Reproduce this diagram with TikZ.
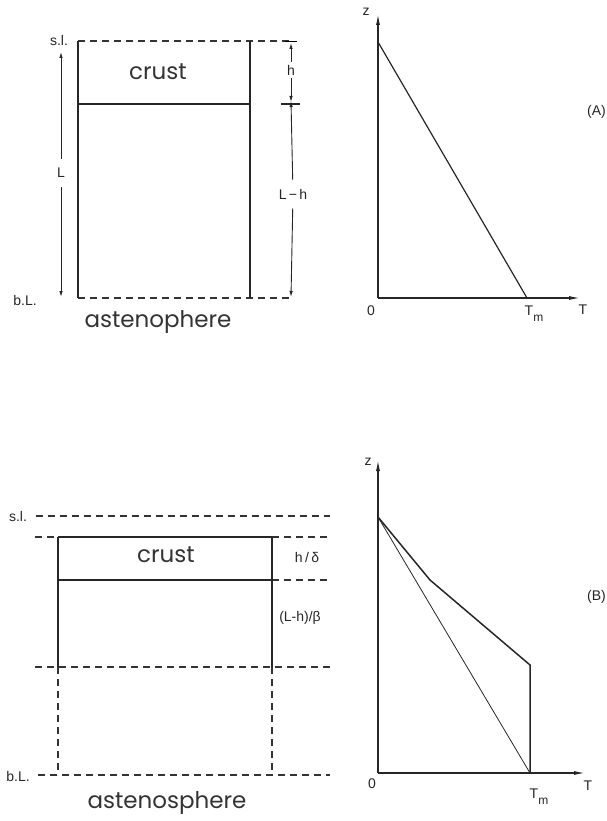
\documentclass[tikz,border=0pt]{standalone}
\usepackage{fontspec}
\setmainfont{Liberation Sans}
\newfontfamily\geofont{Poppins}
\usetikzlibrary{arrows.meta, positioning}

\newcommand{\Tmelt}{T\raisebox{-6pt}{\fontsize{12}{14}\selectfont m}}

\begin{document}
\begin{tikzpicture}[
  x=1pt, y=-1pt,
  wall/.style={line width=1.3pt, draw=black!85},
  dashline/.style={line width=1.1pt, draw=black!80, dash pattern=on 7pt off 5pt},
  dimarr/.style={-{Latex[length=6pt,width=3.5pt]}, line width=0.9pt, draw=black!85},
  axis/.style={-{Latex[length=11pt,width=4pt]}, line width=1.2pt, draw=black!85},
  profile/.style={line width=1.5pt, draw=black!85},
  thinline/.style={line width=0.8pt, draw=black!85},
  big/.style={font=\geofont\fontsize{23}{26}\selectfont, text=black!80},
  small/.style={font=\fontsize{14}{16}\selectfont, text=black!85, inner sep=1pt},
  gap/.style={small, fill=white, inner xsep=2pt, inner ysep=9pt}
]
\useasboundingbox (0,0) rectangle (607,821);

% ---------- (A) column
\coordinate (aTL) at (78,41);  \coordinate (aTR) at (250,41);
\coordinate (aCL) at (78,104); \coordinate (aCR) at (250,104);
\coordinate (aBL) at (78,298); \coordinate (aBR) at (250,298);
\coordinate (aTE) at (293,41); \coordinate (aBE) at (293,298);

\draw[dashline] (aTL) -- (aTE);
\draw[dashline] (aBL) -- (aBE);
\draw[wall] (aTL) -- (aBL);
\draw[wall] (aTR) -- (aBR);
\draw[wall] (aCL) -- (aCR);

\node[big] (crustA) at (158,72) {crust};
\node[big] (asthA) at (158,322) {astenophere};
\node[small] (slA) at (59,40) {s.l.};
\node[small] (blA) at (25,300) {b.L.};

% L on the left
\coordinate (Ltop) at (61,52); \coordinate (Lbot) at (61,297);
\node[gap] (Llbl) at (61,173) {L};
\draw[dimarr] (Llbl) -- (Ltop);
\draw[dimarr] (Llbl) -- (Lbot);

% h and L-h on the right
\coordinate (hTop) at (291,43); \coordinate (hMid) at (291,104);
\coordinate (hBot) at (291,297);
\draw[wall] (281,104) -- (300,104);
\draw[line width=0.9pt] (285,41) -- (297,41);
\node[small, fill=white, inner ysep=3pt] (hlbl) at (291,70) {h};
\draw[dimarr] (hlbl) -- (hTop);
\draw[dimarr] (hlbl) -- (291,102);
\node[gap] (Lhlbl) at (293,194) {L\,\textminus\,h};
\draw[dimarr] (Lhlbl) -- ([yshift=3pt]hMid);
\draw[dimarr] (Lhlbl) -- (hBot);

% graph (A)
\coordinate (oA) at (378,298);
\draw[axis] (oA) -- (378,14);
\draw[axis] (oA) -- (580,298);
\node[small] (zA) at (366,12) {z};
\node[small] (zeroA) at (371,311) {0};
\node[small] (TA) at (583,310) {T};
\node[small] (TmA) at (534,314) {\Tmelt};
\draw[thinline, line width=1.2pt] (378,42) -- (527,298);
\node[small, anchor=east] (tagA) at (607,112) {(A)};

% ---------- (B) column
\coordinate (bTL) at (58,537);  \coordinate (bTR) at (272,537);
\coordinate (bCL) at (58,580);  \coordinate (bCR) at (272,580);
\coordinate (bBL) at (58,667);  \coordinate (bBR) at (272,667);
\coordinate (bLL) at (58,775);  \coordinate (bLR) at (272,775);

\draw[dashline] (36,516) -- (330,516);
\draw[dashline] (35,537) -- (bTL);
\draw[dashline] (bTR) -- (330,537);
\draw[dashline] (bCR) -- (330,580);
\draw[dashline] (35,667) -- (330,667);
\draw[dashline] (bBL) -- (bLL);
\draw[dashline] (bBR) -- (bLR);
\draw[dashline] (38,775) -- (330,775);
\draw[wall] (bTL) -- (bTR);
\draw[wall] (bCL) -- (bCR);
\draw[wall] (bTL) -- (bBL);
\draw[wall] (bTR) -- (bBR);

\node[big] (crustB) at (166,555) {crust};
\node[big] (asthB) at (167,803) {astenosphere};
\node[small] (slB) at (18,516) {s.l.};
\node[small] (blB) at (18,776) {b.L.};
\node[small] (hdB) at (307,557) {h\,/\,δ};
\node[small] (lhB) at (300,618) {(L-h)/β};

% graph (B)
\coordinate (oB) at (378,773);
\draw[axis] (oB) -- (378,460);
\draw[axis] (oB) -- (585,773);
\node[small] (zB) at (368,462) {z};
\node[small] (zeroB) at (372,784) {0};
\node[small] (TB) at (588,786) {T};
\node[small] (TmB) at (539,797) {\Tmelt};
\coordinate (pTop) at (378,517);
\coordinate (pKnee) at (430,580);
\coordinate (pMelt) at (530,665);
\coordinate (pTm) at (530,773);
\draw[profile] (pTop) -- (pKnee) -- (pMelt) -- (pTm);
\draw[thinline] (pTop) -- (pTm);
\node[small, anchor=east] (tagB) at (607,597) {(B)};
\end{tikzpicture}
\end{document}
